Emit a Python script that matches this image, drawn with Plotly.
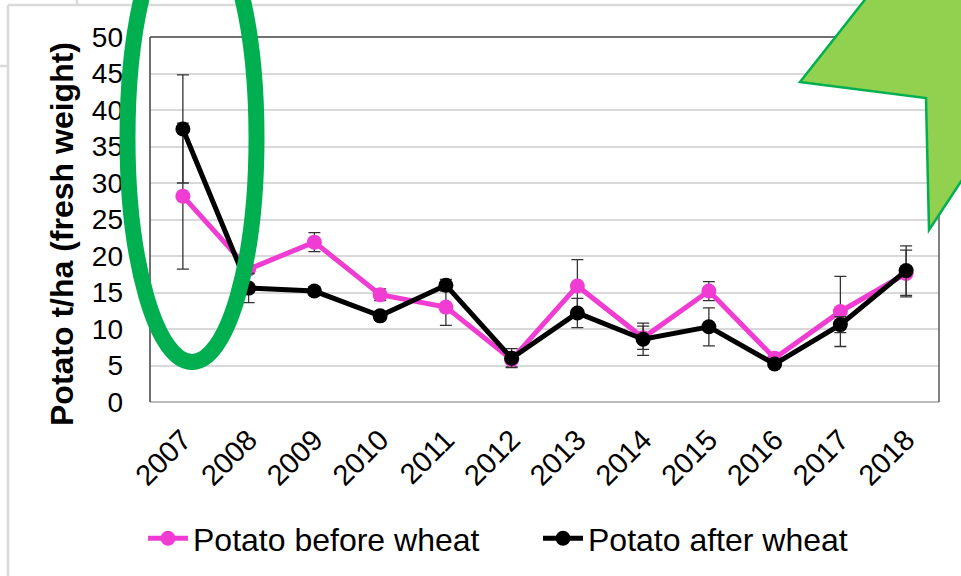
import plotly.graph_objects as go

# Potato yield (t/ha fresh weight) per season, two rotation positions
years = ["2007", "2008", "2009", "2010", "2011", "2012",
         "2013", "2014", "2015", "2016", "2017", "2018"]
before_wheat = [28.2, 18.2, 21.9, 14.7, 13.0, 5.8, 15.9, 8.8, 15.2, 6.0, 12.4, 17.6]
before_wheat_err = [10.0, 0.5, 1.3, 0.8, 2.5, 1.0, 3.6, 1.6, 1.3, 0.5, 4.8, 3.2]
after_wheat = [37.4, 15.6, 15.2, 11.8, 16.0, 6.0, 12.2, 8.6, 10.3, 5.2, 10.6, 18.0]
after_wheat_err = [7.4, 2.0, 0.6, 0.6, 0.8, 1.3, 2.0, 2.2, 2.6, 0.4, 1.1, 3.4]
y_ticks = [0, 5, 10, 15, 20, 25, 30, 35, 40, 45, 50]

PINK = "#F03CD2"
FONT = "Arial, Liberation Sans, sans-serif"

W, H = 961, 576
L, R, T, B = 150, 939, 37, 402  # plot area in pixels


def px(x):
    return (x - L) / (R - L)


def py(y):
    return (B - y) / (B - T)


fig = go.Figure()
fig.add_trace(go.Scatter(
    x=years, y=before_wheat, name="Potato before wheat", mode="lines+markers",
    line=dict(color=PINK, width=5), marker=dict(color=PINK, size=15),
    error_y=dict(type="data", array=before_wheat_err, color="#333333",
                 thickness=1.3, width=6),
))
fig.add_trace(go.Scatter(
    x=years, y=after_wheat, name="Potato after wheat", mode="lines+markers",
    line=dict(color="black", width=5), marker=dict(color="black", size=15),
    error_y=dict(type="data", array=after_wheat_err, color="#333333",
                 thickness=1.3, width=6),
))

shapes = []
# slide / chart-area frame lines
frame = dict(type="line", xref="paper", yref="paper",
             line=dict(color="#d9d9d9", width=2.5), layer="below")
shapes.append(dict(frame, x0=px(8), x1=px(8), y0=py(5), y1=py(600)))
shapes.append(dict(frame, x0=px(8), x1=px(990), y0=py(5), y1=py(5)))
shapes.append(dict(frame, x0=px(-5), x1=px(8), y0=py(66), y1=py(66)))
shapes.append(dict(frame, x0=px(77), x1=px(77), y0=py(-5), y1=py(5)))
# plot-area border
shapes.append(dict(type="line", xref="paper", yref="paper", x0=0, x1=1, y0=0, y1=0,
                   line=dict(color="#a6a6a6", width=1.5)))
shapes.append(dict(type="line", xref="paper", yref="paper", x0=0, x1=1, y0=1, y1=1,
                   line=dict(color="#404040", width=1.5)))
shapes.append(dict(type="line", xref="paper", yref="paper", x0=1, x1=1, y0=0, y1=1,
                   line=dict(color="#595959", width=1.5)))
shapes.append(dict(type="line", xref="paper", yref="paper", x0=0, x1=0, y0=0, y1=1,
                   line=dict(color="#404040", width=1.5)))

# green ellipse highlighting the first season
cx, cy, rx, ry = 192, 138, 64.5, 224
shapes.append(dict(type="circle", xref="paper", yref="paper",
                   x0=px(cx - rx), x1=px(cx + rx), y0=py(cy + ry), y1=py(cy - ry),
                   line=dict(color="#00B050", width=16), layer="above"))

# green block arrow in the top-right corner
pts = [(882, -22), (800, 82), (926, 98), (929, 230), (995, 130), (1000, -30)]
path = "M " + " L ".join(f"{px(x):.5f},{py(y):.5f}" for x, y in pts) + " Z"
shapes.append(dict(type="path", xref="paper", yref="paper", path=path,
                   fillcolor="#92D050", line=dict(color="#00B050", width=2.5),
                   layer="above"))

fig.update_layout(
    width=W, height=H,
    margin=dict(l=L, r=W - R, t=T, b=H - B, pad=0, autoexpand=False),
    paper_bgcolor="white", plot_bgcolor="white",
    font=dict(family=FONT, color="black", size=28),
    showlegend=True,
    legend=dict(orientation="h", xref="container", yref="container",
                x=143 / W, y=1 - 511 / H, xanchor="left", yanchor="top",
                font=dict(size=32, family=FONT), itemwidth=40,
                entrywidth=340, bgcolor="rgba(0,0,0,0)", tracegroupgap=0),
    shapes=shapes,
    annotations=[dict(text="<b>Potato t/ha (fresh weight)</b>", textangle=-90,
                      xref="paper", yref="paper", x=px(62), y=py(234),
                      xanchor="center", yanchor="middle", showarrow=False,
                      font=dict(size=32, family=FONT))],
)
fig.update_xaxes(
    type="category", categoryorder="array", categoryarray=years,
    range=[-0.5, len(years) - 0.5], automargin=False,
    tickangle=-45, tickfont=dict(size=29), showgrid=False, showline=False,
    ticks="", zeroline=False, ticklabelstandoff=14,
)
fig.update_yaxes(
    range=[0, 50], tickvals=y_ticks, tickfont=dict(size=28), automargin=False,
    showgrid=True, gridcolor="#d9d9d9", gridwidth=2, zeroline=False,
    showline=False, ticks="", ticklabelstandoff=26,
)

fig.write_html("out.html")
